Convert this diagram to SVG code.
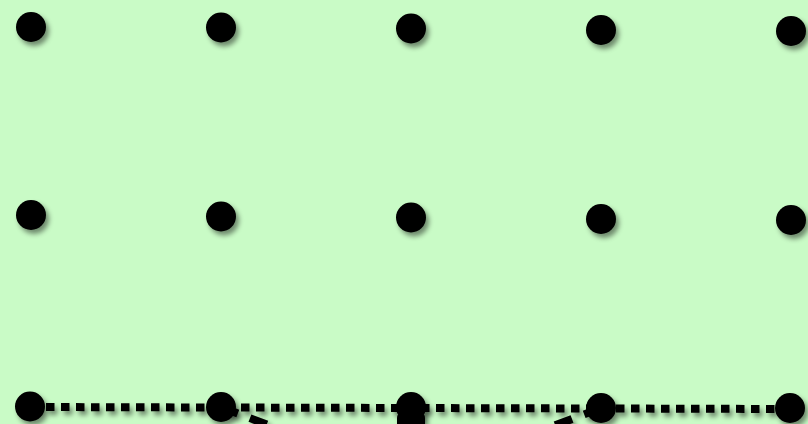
<svg xmlns="http://www.w3.org/2000/svg" width="808" height="424" viewBox="0 0 808 424">
  <defs>
    <filter id="sh" x="-50%" y="-50%" width="200%" height="200%">
      <feDropShadow dx="3" dy="4" stdDeviation="2.5" flood-color="#000" flood-opacity="0.45"/>
    </filter>
    <style>
      .dot { fill: #000; }
      .dotted { fill: none; stroke: #000; stroke-width: 8; stroke-dasharray: 8.5 6.5; }
      .dashed { fill: none; stroke: #000; stroke-width: 8; stroke-dasharray: 18 13; }
    </style>
  </defs>
  <rect width="808" height="424" fill="#c9fbc6"/>
  <g id="connectors" filter="url(#sh)">
    <path class="dotted" d="M31 407 L791 409"/>
    <path class="dashed" d="M221 407 L411 480"/>
    <path class="dashed" d="M601 408 L411 480"/>
    <path d="M397 424 L397 418 Q397 413 402 413 L420 413 Q425 413 425 418 L425 424 Z" fill="#000"/>
  </g>
  <g filter="url(#sh)">
    <g id="n11"><circle class="dot" cx="31" cy="27" r="15"/></g>
    <g id="n12"><circle class="dot" cx="221" cy="27.5" r="15"/></g>
    <g id="n13"><circle class="dot" cx="411" cy="28.5" r="15"/></g>
    <g id="n14"><circle class="dot" cx="601" cy="30" r="15"/></g>
    <g id="n15"><circle class="dot" cx="791" cy="31" r="15"/></g>
    <g id="n21"><circle class="dot" cx="31" cy="215" r="15"/></g>
    <g id="n22"><circle class="dot" cx="221" cy="216.5" r="15"/></g>
    <g id="n23"><circle class="dot" cx="411" cy="217.5" r="15"/></g>
    <g id="n24"><circle class="dot" cx="601" cy="219" r="15"/></g>
    <g id="n25"><circle class="dot" cx="791" cy="220" r="15"/></g>
    <g id="n31"><circle class="dot" cx="30" cy="406.5" r="15"/></g>
    <g id="n32"><circle class="dot" cx="221" cy="407" r="15"/></g>
    <g id="n33"><circle class="dot" cx="411" cy="407" r="15"/></g>
    <g id="n34"><circle class="dot" cx="601" cy="408" r="15"/></g>
    <g id="n35"><circle class="dot" cx="790" cy="408" r="15"/></g>
  </g>
</svg>
